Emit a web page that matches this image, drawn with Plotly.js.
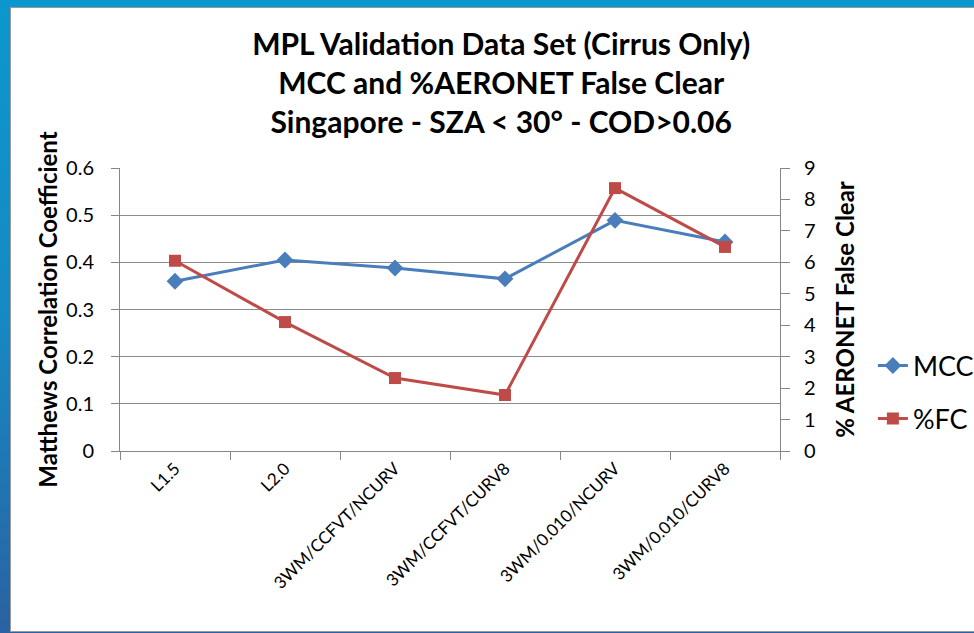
<!DOCTYPE html>
<html><head><meta charset="utf-8">
<script src="https://cdn.plot.ly/plotly-3.0.1.min.js"></script>
<style>
html,body{margin:0;padding:0;width:974px;height:633px;overflow:hidden;}
body{background:linear-gradient(180deg,#0b97cd 0%,#1689c4 50%,#2a62a2 100%);position:relative;}
#chart{position:absolute;left:11px;top:8px;width:963px;height:623px;background:#fff;box-shadow:0 0 0 1px #9a9a9a;}
</style></head>
<body><div id="chart"></div>
<script>
const categories = ["L1.5","L2.0","3WM/CCFVT/NCURV","3WM/CCFVT/CURV8","3WM/0.010/NCURV","3WM/0.010/CURV8"];
const mccValues = [0.360, 0.405, 0.388, 0.365, 0.489, 0.443];
const fcValues = [6.05, 4.10, 2.32, 1.78, 8.36, 6.49];
const leftTicks = [0, 0.1, 0.2, 0.3, 0.4, 0.5, 0.6];
const leftTickText = ["0","0.1","0.2","0.3","0.4","0.5","0.6"];
const rightTicks = [0,1,2,3,4,5,6,7,8,9];

const FONT = "Lato, 'Liberation Sans', Arial, sans-serif";
const traces = [
  {x: categories, y: mccValues, name: "MCC", type: "scatter", mode: "lines+markers", yaxis: "y",
   legendgroup: "a",
   line: {color: "#4a7ebb", width: 3}, marker: {symbol: "diamond", size: 13, color: "#4a7ebb"}},
  {x: categories, y: fcValues, name: "%FC", type: "scatter", mode: "lines+markers", yaxis: "y2",
   legendgroup: "b",
   line: {color: "#be4b48", width: 3}, marker: {symbol: "square", size: 12, color: "#be4b48"}}
];
const layout = {
  width: 963, height: 623,
  paper_bgcolor: "#ffffff", plot_bgcolor: "#ffffff",
  margin: {l: 109, r: 194, t: 160, b: 180},
  font: {family: FONT, color: "#000"},
  title: {text: "MPL Validation Data Set (Cirrus Only)<br>MCC and %AERONET False Clear<br>Singapore - SZA &lt; 30° - COD&gt;0.06",
          font: {size: 30, weight: "bold", family: FONT, color: "#000"},
          x: 0.509, xanchor: "center", xref: "container", y: 1 - 47/623, yanchor: "top", yref: "container"},
  showlegend: true,
  legend: {xref: "container", yref: "container", x: 0.895, xanchor: "left", y: 0.383, yanchor: "middle",
           font: {size: 27, family: FONT},
           traceorder: "grouped", tracegroupgap: 15, itemwidth: 30, bgcolor: "rgba(0,0,0,0)"},
  xaxis: {type: "category", range: [-0.5, 5.5], tickangle: -45, tickfont: {size: 17, family: FONT},
          showline: true, linecolor: "#868686", linewidth: 1, ticks: "outside", tickson: "boundaries",
          ticklen: 8, tickcolor: "#868686", showgrid: false, zeroline: false},
  yaxis: {range: [0, 0.6], tickvals: leftTicks, ticktext: leftTickText, tickfont: {size: 20, family: FONT},
          showline: true, linecolor: "#868686", ticks: "outside", ticklen: 8, tickcolor: "#868686",
          ticklabelstandoff: 13,
          showgrid: true, gridcolor: "#8c8c8c", gridwidth: 1, zeroline: false,
          title: {text: "Matthews Correlation Coefficient", font: {size: 24, weight: "bold", family: FONT}, standoff: 1}},
  yaxis2: {range: [0, 9], tickvals: rightTicks, overlaying: "y", side: "right", tickfont: {size: 20, family: FONT},
          showline: true, linecolor: "#868686", ticks: "outside", ticklen: 9, tickcolor: "#868686",
          ticklabelstandoff: 10,
          showgrid: false, zeroline: false,
          title: {text: "% AERONET False Clear", font: {size: 24, weight: "bold", family: FONT}, standoff: 22}}
};
Plotly.newPlot("chart", traces, layout, {displayModeBar: false, staticPlot: true});
</script>
</body></html>
